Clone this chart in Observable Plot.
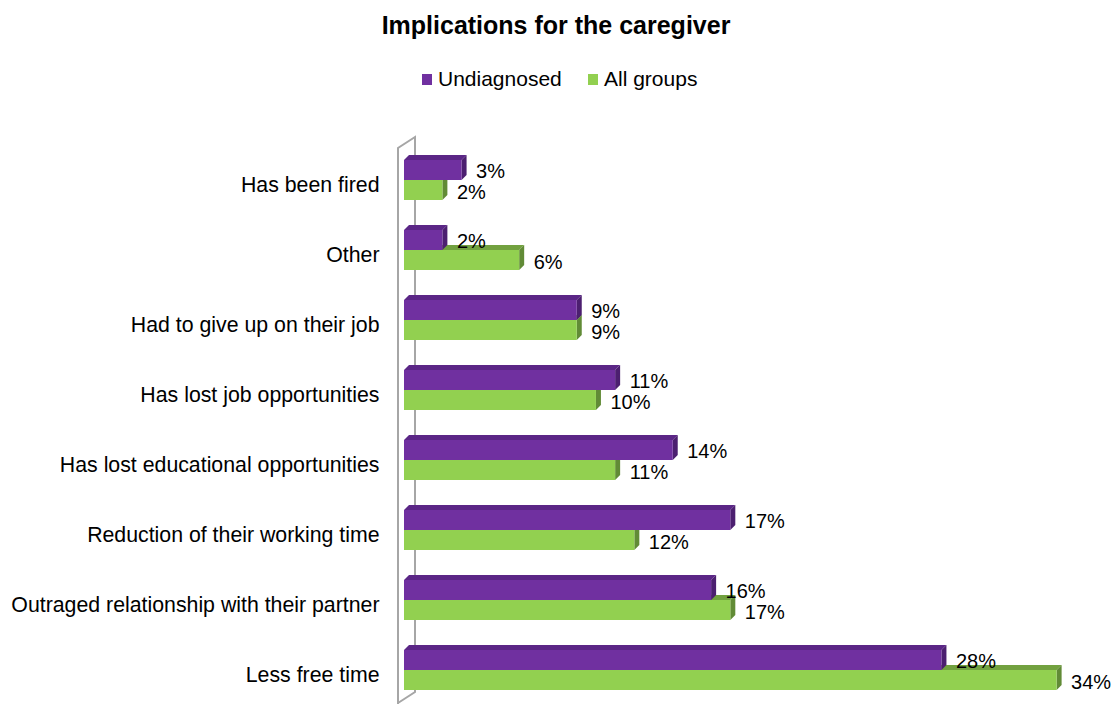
<!DOCTYPE html>
<html>
<head>
<meta charset="utf-8">
<script src="https://cdn.jsdelivr.net/npm/d3@7"></script>
<script src="https://cdn.jsdelivr.net/npm/@observablehq/plot@0.6"></script>
<style>
  html, body { margin: 0; padding: 0; background: #fff; }
  #wrap { position: relative; width: 1112px; height: 704px; overflow: hidden; font-family: "Liberation Sans", Arial, sans-serif; color: #000; }
  #title { position: absolute; left: 0; width: 1112px; top: 13px; text-align: center; font-weight: bold; font-size: 25px; line-height: 25px; }
  .sw { position: absolute; width: 10px; height: 11px; top: 74px; }
  .lt { position: absolute; top: 68px; font-size: 21px; line-height: 21px; white-space: nowrap; }
  #chart { position: absolute; left: 0; top: 0; }
</style>
</head>
<body>
<div id="wrap">
  <div id="title">Implications for the caregiver</div>
  <div class="sw" style="left:422px;background:#7030a0"></div>
  <div class="lt" style="left:438px">Undiagnosed</div>
  <div class="sw" style="left:588px;background:#92d050"></div>
  <div class="lt" style="left:604px">All groups</div>
  <div id="chart"></div>
</div>
<script>
const categories = [
  "Has been fired",
  "Other",
  "Had to give up on their job",
  "Has lost job opportunities",
  "Has lost educational opportunities",
  "Reduction of their working time",
  "Outraged relationship with their partner",
  "Less free time"
];
const undiagnosed = [3, 2, 9, 11, 14, 17, 16, 28];
const allGroups   = [2, 6, 9, 10, 11, 12, 17, 34];

const rows = categories.map((c, i) => ({cat: c, und: undiagnosed[i], all: allGroups[i]}));

const C = {
  pFront: "#7030a0", pTop: "#5b2686", pSide: "#4c1f70",
  gFront: "#92d050", gTop: "#72a13f", gSide: "#618b36"
};

const plot = Plot.plot({
  width: 1112,
  height: 704,
  marginLeft: 404,
  marginRight: 17,
  marginTop: 145,
  marginBottom: 0,
  style: {fontFamily: "'Liberation Sans', Arial, sans-serif", background: "transparent", color: "#000"},
  x: {domain: [0, 36], axis: null},
  y: {domain: categories, range: [145, 705], padding: 0},
  marks: [
    // green bars (below purple)
    Plot.barX(rows, {x: "all", y: "cat", insetTop: 30, insetBottom: 35, fill: C.gTop}),
    Plot.barX(rows, {x1: "all", x2: "all", y: "cat", insetTop: 30, insetBottom: 15, insetRight: -5, fill: C.gSide}),
    Plot.barX(rows, {x: "all", y: "cat", insetTop: 35, insetBottom: 15, fill: C.gFront}),
    // purple bars
    Plot.barX(rows, {x: "und", y: "cat", insetTop: 10, insetBottom: 55, fill: C.pTop}),
    Plot.barX(rows, {x1: "und", x2: "und", y: "cat", insetTop: 10, insetBottom: 35, insetRight: -5, fill: C.pSide}),
    Plot.barX(rows, {x: "und", y: "cat", insetTop: 15, insetBottom: 35, fill: C.pFront}),
    // value labels
    Plot.text(rows, {x: "und", y: "cat", text: d => d.und + "%", dx: 14, dy: -9, textAnchor: "start", fontSize: 20, fill: "#000"}),
    Plot.text(rows, {x: "all", y: "cat", text: d => d.all + "%", dx: 14, dy: 12, textAnchor: "start", fontSize: 20, fill: "#000"}),
    Plot.axisY({tickSize: 0, tickPadding: 25, fontSize: 21.3, dy: 4.5, label: null, fill: "#000"})
  ]
});

// turn the top/side rects into parallelograms (3D look)
const norm = s => (s || "").toLowerCase();
plot.querySelectorAll("rect").forEach(r => {
  const f = norm(r.getAttribute("fill") || (r.parentNode && r.parentNode.getAttribute("fill")));
  const isTop = f === C.gTop || f === C.pTop;
  const isSide = f === C.gSide || f === C.pSide;
  if (!isTop && !isSide) return;
  const x = +r.getAttribute("x"), y = +r.getAttribute("y");
  const w = +r.getAttribute("width"), h = +r.getAttribute("height");
  const p = document.createElementNS("http://www.w3.org/2000/svg", "path");
  let d;
  if (isTop) d = `M${x},${y + h}L${x + w},${y + h}L${x + w + 5},${y}L${x + 5},${y}Z`;
  else d = `M${x},${y + 5}L${x + w},${y}L${x + w},${y + h - 5}L${x},${y + h}Z`;
  p.setAttribute("d", d);
  if (r.getAttribute("fill")) p.setAttribute("fill", r.getAttribute("fill"));
  r.replaceWith(p);
});

// the 3D wall on the left
const xs = plot.scale("x");
const ys = plot.scale("y");
const x0 = xs.apply(0);
const yTop = ys.range[0];
const yBot = ys.range[1];
const wall = document.createElementNS("http://www.w3.org/2000/svg", "path");
wall.setAttribute("d", `M${x0 - 6},${yBot}L${x0 - 6},${yTop + 3}L${x0 + 11},${yTop - 8}L${x0 + 11},${yBot - 13}L${x0 - 6},${yBot - 2}`);
wall.setAttribute("fill", "none");
wall.setAttribute("stroke", "#a6a6a6");
wall.setAttribute("stroke-width", "2");
plot.insertBefore(wall, plot.querySelector("g"));

document.getElementById("chart").appendChild(plot);
</script>
</body>
</html>
